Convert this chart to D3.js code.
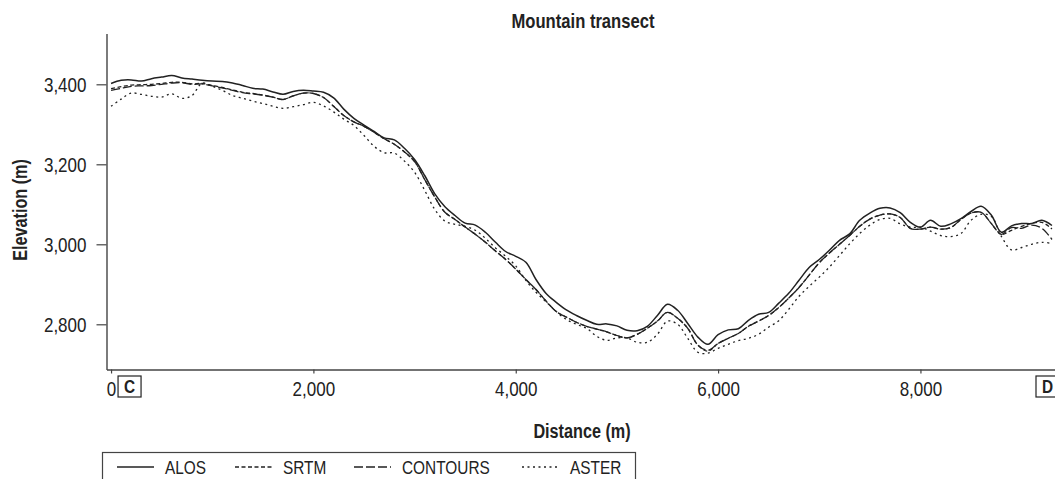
<!DOCTYPE html>
<html>
<head>
<meta charset="utf-8">
<script src="https://cdn.jsdelivr.net/npm/d3@7"></script>
<style>
  body { margin: 0; background: #fff; }
  svg { display: block; font-family: "Liberation Sans", Arial, sans-serif; }
</style>
</head>
<body>
<svg width="1055" height="479"></svg>
<script>
// distance along the transect, every 100 m
var distance = d3.range(0, 9301, 100);

var alos = [3402,3410,3411,3408,3414,3418,3422,3416,3413,3410,3408,3407,3403,3397,3390,3388,3381,3375,3382,3385,
  3383,3380,3366,3338,3315,3298,3282,3266,3261,3240,3212,3172,3126,3094,3072,3053,3048,3030,3005,2982,
  2970,2955,2912,2877,2855,2836,2822,2810,2800,2801,2796,2785,2784,2795,2822,2850,2835,2802,2768,2750,
  2774,2786,2789,2810,2825,2830,2853,2878,2910,2942,2962,2985,3010,3026,3060,3078,3090,3091,3079,3055,
  3043,3060,3045,3051,3064,3082,3095,3073,3030,3046,3052,3052,3060,3047];

var srtm = [3389,3394,3398,3399,3400,3402,3405,3405,3401,3402,3397,3392,3386,3380,3377,3373,3368,3362,3371,3378,
  3377,3367,3345,3322,3306,3295,3280,3264,3250,3231,3207,3162,3118,3080,3062,3043,3025,3005,2983,2962,
  2938,2912,2887,2858,2832,2818,2805,2795,2788,2781,2772,2766,2775,2790,2808,2830,2815,2790,2748,2733,
  2752,2765,2777,2795,2808,2822,2842,2866,2892,2923,2954,2978,3000,3022,3045,3063,3073,3076,3067,3040,
  3038,3043,3038,3042,3062,3078,3080,3052,3025,3035,3045,3052,3055,3038];

var contours = [3385,3390,3395,3396,3397,3400,3403,3404,3400,3401,3396,3391,3385,3379,3376,3373,3368,3362,3371,3378,
  3377,3367,3345,3322,3306,3295,3280,3264,3250,3231,3207,3162,3118,3080,3062,3043,3025,3005,2983,2962,
  2938,2912,2887,2858,2832,2818,2805,2795,2788,2781,2772,2766,2775,2790,2808,2830,2815,2790,2748,2735,
  2752,2765,2777,2795,2808,2822,2842,2866,2892,2923,2954,2978,3000,3022,3045,3063,3073,3076,3067,3040,
  3038,3043,3038,3042,3062,3078,3080,3052,3025,3042,3040,3048,3040,3012];

var aster = [3345,3363,3378,3375,3370,3368,3376,3365,3372,3403,3395,3385,3372,3365,3358,3352,3345,3340,3344,3349,
  3355,3346,3331,3313,3297,3272,3245,3229,3228,3208,3180,3135,3087,3058,3050,3045,3035,3015,2991,2970,
  2946,2910,2880,2856,2832,2812,2800,2790,2770,2760,2766,2766,2755,2755,2775,2808,2800,2765,2730,2728,
  2740,2750,2759,2765,2775,2793,2809,2838,2870,2895,2918,2943,2972,3001,3027,3048,3062,3065,3051,3043,
  3042,3033,3022,3019,3027,3060,3075,3070,3020,2986,2992,3000,3005,3002];

var seriesNames = ["ALOS", "SRTM", "CONTOURS", "ASTER"];
var seriesDash = ["none", "4,2.5", "9,3", "2,3.5"];
var xTicks = [0, 2000, 4000, 6000, 8000];
var yTicks = [2800, 3000, 3200, 3400];
var endLabels = ["C", "D"];

var svg = d3.select("svg");
var ink = "#222";

var x = d3.scaleLinear().domain([-45, 9330]).range([106.5, 1055]);
var y = d3.scaleLinear().domain([2687, 3527]).range([369.5, 33.5]);
var fmt = d3.format(",");

svg.append("clipPath").attr("id", "plot")
  .append("rect").attr("x", 107).attr("y", 20).attr("width", 960).attr("height", 349);

var lines = [alos, srtm, contours, aster];
var line = d3.line().curve(d3.curveCatmullRom.alpha(0.5))
  .x(function (d, i) { return x(distance[i]); })
  .y(function (d) { return y(d); });

svg.append("g").attr("clip-path", "url(#plot)")
  .selectAll("path").data(lines).join("path")
  .attr("d", line)
  .attr("fill", "none")
  .attr("stroke", ink)
  .attr("stroke-width", function (d, i) { return i == 0 ? 1.5 : 1.3; })
  .attr("stroke-dasharray", function (d, i) { return seriesDash[i]; });

// axes
var xAxis = svg.append("g").attr("transform", "translate(0,369.5)")
  .call(d3.axisBottom(x).tickValues(xTicks).tickFormat(fmt).tickSize(4).tickSizeOuter(0).tickPadding(8));
var yAxis = svg.append("g").attr("transform", "translate(106.5,0)")
  .call(d3.axisLeft(y).tickValues(yTicks).tickFormat(fmt).tickSize(10).tickSizeOuter(0).tickPadding(10));

[xAxis, yAxis].forEach(function (a) {
  a.select(".domain").attr("stroke", "#444").attr("stroke-width", 1.4);
  a.selectAll(".tick line").attr("stroke", "#444").attr("stroke-width", 1.2);
  a.selectAll("text").attr("font-size", 21).attr("fill", ink).attr("font-family", null);
});

// end point boxes
var ends = svg.selectAll("g.end").data(endLabels).join("g").attr("class", "end")
  .attr("transform", function (d, i) { return "translate(" + (i == 0 ? x(0) + 7 : 1036) + ",376)"; });
ends.append("rect").attr("width", 23).attr("height", 21)
  .attr("fill", "#fff").attr("stroke", ink).attr("stroke-width", 1.2);
ends.append("text").attr("x", 11.5).attr("y", 17).attr("text-anchor", "middle")
  .attr("font-size", 19).attr("font-weight", "bold").attr("fill", ink).text(function (d) { return d; });

// titles
svg.append("text").attr("x", 583).attr("y", 28).attr("text-anchor", "middle")
  .attr("font-size", 20.5).attr("font-weight", "bold").attr("fill", ink).text("Mountain transect");
svg.append("text").attr("x", 582).attr("y", 438).attr("text-anchor", "middle")
  .attr("font-size", 20).attr("font-weight", "bold").attr("fill", ink).text("Distance (m)");
svg.append("text").attr("transform", "translate(27,210) rotate(-90)").attr("text-anchor", "middle")
  .attr("font-size", 20).attr("font-weight", "bold").attr("fill", ink).text("Elevation (m)");

// legend
var legend = svg.append("g");
legend.append("rect").attr("x", 102.5).attr("y", 452.5).attr("width", 533).attr("height", 40)
  .attr("fill", "none").attr("stroke", "#444").attr("stroke-width", 1.2);
var legX = [117, 235, 354, 522];
var item = legend.selectAll("g").data(seriesNames).join("g")
  .attr("transform", function (d, i) { return "translate(" + legX[i] + ",467)"; });
item.append("line").attr("x1", 0).attr("x2", 37)
  .attr("stroke", ink).attr("stroke-width", 1.4)
  .attr("stroke-dasharray", function (d, i) { return seriesDash[i]; });
item.append("text").attr("x", 48).attr("y", 7).attr("font-size", 19).attr("fill", ink)
  .text(function (d) { return d; });

// the original uses a condensed face: squeeze every label horizontally
svg.selectAll("text").each(function () {
  var w = this.getComputedTextLength();
  d3.select(this).attr("textLength", w * 0.81).attr("lengthAdjust", "spacingAndGlyphs");
});
</script>
</body>
</html>
